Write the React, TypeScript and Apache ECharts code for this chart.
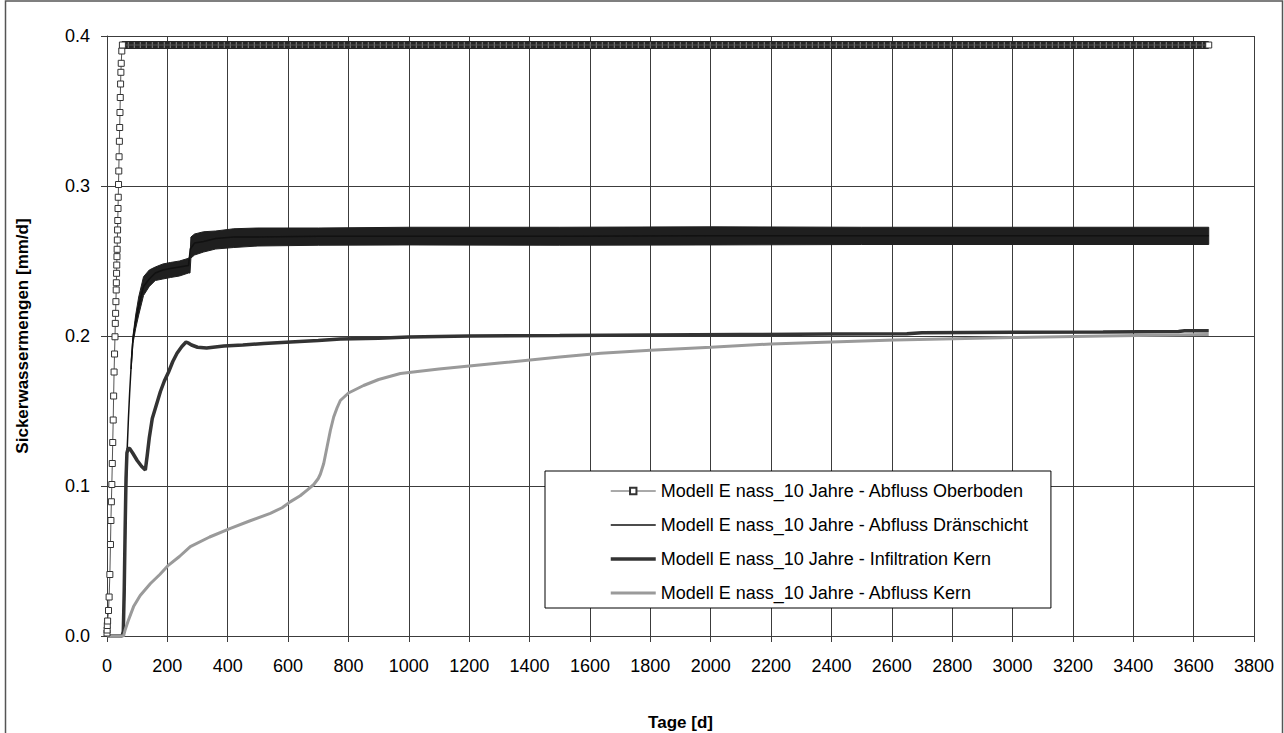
import React, { useEffect, useRef } from "react";
import * as echarts from "echarts";

// ---------- data ----------
const seriesNames = [
  "Modell E nass_10 Jahre - Abfluss Oberboden",
  "Modell E nass_10 Jahre - Abfluss Dränschicht",
  "Modell E nass_10 Jahre - Infiltration Kern",
  "Modell E nass_10 Jahre - Abfluss Kern",
];

// Abfluss Oberboden: steep rise (one marker per output step), then plateau
const oberbodenDays = [
  0, 0.5, 1, 2, 5, 7, 9.5, 11.5, 13, 14.5, 16, 17.5, 19, 20.5, 22, 23.5, 25, 26.5,
  27.5, 28.5, 29.5, 30.5, 31, 31.7, 32.3, 33, 33.6, 34.3, 35, 35.7, 36.5, 37.3,
  38.2, 39, 40, 41, 42, 43, 44, 45, 46, 47.2, 49, 51, 3650,
];
const oberbodenValues = [
  0.002, 0.004, 0.007, 0.01, 0.017, 0.026, 0.041, 0.061, 0.077, 0.0895, 0.101,
  0.115, 0.129, 0.144, 0.16, 0.176, 0.188, 0.1995, 0.2084, 0.2151, 0.2229, 0.2307,
  0.2355, 0.2418, 0.2473, 0.2529, 0.2578, 0.264, 0.2707, 0.277, 0.285, 0.2925,
  0.301, 0.31, 0.3195, 0.3298, 0.339, 0.349, 0.359, 0.368, 0.3758, 0.3818, 0.39,
  0.394, 0.394,
];
// dense daily markers along the plateau merge into a dark band
const oberbodenPlateauDays = [49, 3650];
const oberbodenPlateauValues = [0.394, 0.394];

// Abfluss Dränschicht: centre line and its oscillation range (dark band)
const draenDays = [
  0, 50, 55, 58, 61, 64, 67, 71, 75, 80, 86, 95, 105, 121, 140, 160, 185, 210, 240,
  270, 276, 290, 320, 360, 420, 500, 700, 1000, 1500, 2000, 2500, 3000, 3650,
];
const draenValues = [
  0, 0, 0.002, 0.03, 0.07, 0.1, 0.125, 0.145, 0.162, 0.18, 0.198, 0.21, 0.22, 0.233,
  0.238, 0.242, 0.244, 0.245, 0.246, 0.247, 0.258, 0.262, 0.263, 0.265, 0.266,
  0.266, 0.2665, 0.2665, 0.2665, 0.2668, 0.2668, 0.2668, 0.2668,
];
const draenBandDays = [
  80, 86, 95, 105, 121, 140, 160, 185, 210, 240, 270, 275, 278, 290, 320, 360, 420,
  500, 700, 1000, 1500, 2000, 2500, 3000, 3650,
];
const draenBandLow = [
  0.178, 0.195, 0.205, 0.214, 0.227, 0.233, 0.237, 0.238, 0.239, 0.24, 0.242, 0.242,
  0.252, 0.254, 0.256, 0.258, 0.259, 0.26, 0.2605, 0.2607, 0.2605, 0.2607, 0.261,
  0.261, 0.261,
];
const draenBandHigh = [
  0.184, 0.2, 0.214, 0.226, 0.2395, 0.244, 0.246, 0.248, 0.249, 0.25, 0.2518, 0.253,
  0.266, 0.268, 0.2695, 0.27, 0.2715, 0.272, 0.272, 0.2725, 0.2725, 0.2728, 0.2725,
  0.2725, 0.2725,
];

// Infiltration Kern
const infilDays = [
  0, 50, 54, 57, 60, 63, 66, 70, 75, 85, 100, 115, 127, 133, 140, 150, 165, 177,
  190, 204, 218, 232, 248, 262, 268, 280, 300, 330, 387, 450, 520, 608, 700, 773,
  900, 1000, 1200, 1500, 1800, 2100, 2400, 2650, 2700, 3000, 3300, 3550, 3570, 3650,
];
const infilValues = [
  0, 0, 0.003, 0.03, 0.07, 0.105, 0.122, 0.125, 0.125, 0.122, 0.117, 0.113, 0.1107,
  0.12, 0.132, 0.145, 0.155, 0.163, 0.17, 0.176, 0.183, 0.1885, 0.193, 0.196,
  0.1955, 0.194, 0.1925, 0.192, 0.1933, 0.194, 0.195, 0.196, 0.197, 0.198, 0.1985,
  0.1993, 0.2, 0.2003, 0.2007, 0.201, 0.2013, 0.2015, 0.2022, 0.2025, 0.2027,
  0.203, 0.2035, 0.2035,
];

// Abfluss Kern
const kernDays = [
  0, 55, 60, 70, 88, 110, 144, 175, 201, 240, 276, 340, 409, 470, 541, 580, 608,
  640, 663, 685, 700, 707, 718, 729, 740, 751, 762, 773, 800, 850, 900, 972, 1100,
  1300, 1500, 1636, 1800, 2000, 2200, 2400, 2610, 3000, 3300, 3650,
];
const kernValues = [
  0, 0, 0.004, 0.01, 0.0196, 0.027, 0.035, 0.041, 0.0467, 0.053, 0.0596, 0.066,
  0.0718, 0.0765, 0.0818, 0.0855, 0.0896, 0.0935, 0.0973, 0.101, 0.105, 0.108,
  0.115, 0.126, 0.137, 0.146, 0.152, 0.157, 0.162, 0.167, 0.171, 0.175, 0.178,
  0.182, 0.186, 0.1885, 0.1905, 0.1925, 0.1947, 0.196, 0.1973, 0.199, 0.2, 0.201,
];

const xMin = 0;
const xMax = 3800;
const xStep = 200;
const yMin = 0;
const yMax = 0.4;
const yStep = 0.1;

const pairs = (xs: number[], ys: number[]) => xs.map((x, i) => [x, ys[i]]);

const FONT = '"Liberation Sans", Arial, Helvetica, sans-serif';
const GRID = "#3c3c3c";

export default function App() {
  const ref = useRef<HTMLDivElement>(null);

  useEffect(() => {
    if (!ref.current) return;
    const chart = echarts.init(ref.current, null, { renderer: "svg" });

    const bandData = draenBandDays.map((d, i) => [d, draenBandLow[i], draenBandHigh[i]]);

    const option: any = {
      animation: false,
      backgroundColor: "#ffffff",
      textStyle: { fontFamily: FONT, color: "#000" },
      grid: {
        left: 107,
        right: 30,
        top: 36,
        bottom: 97,
        containLabel: false,
        outerBoundsMode: "none",
      },
      graphic: [
        {
          type: "rect",
          silent: true,
          z: 100,
          shape: { x: 5.5, y: 1, width: 1277, height: 760 },
          style: { fill: "none", stroke: "#555", lineWidth: 1.5 },
        },
      ],
      legend: {
        data: [
          { name: seriesNames[0], lineStyle: { width: 1, color: "#555" } },
          { name: seriesNames[1], itemStyle: { opacity: 0 }, lineStyle: { width: 1.5, color: "#111" } },
          { name: seriesNames[2], itemStyle: { opacity: 0 }, lineStyle: { width: 3.5, color: "#333" } },
          { name: seriesNames[3], itemStyle: { opacity: 0 }, lineStyle: { width: 3, color: "#9a9a9a" } },
        ],
        orient: "vertical",
        left: 545,
        top: 471,
        padding: [11, 22, 6, 64],
        itemWidth: 45,
        itemHeight: 8,
        itemGap: 16,
        backgroundColor: "#ffffff",
        borderColor: "#000",
        borderWidth: 1,
        borderRadius: 0,
        textStyle: { fontSize: 18, lineHeight: 18, color: "#000", fontFamily: FONT },
      },
      xAxis: {
        type: "value",
        min: xMin,
        max: xMax,
        interval: xStep,
        name: "Tage [d]",
        nameLocation: "middle",
        nameGap: 78,
        nameTextStyle: { fontWeight: "bold", fontSize: 17, color: "#000", fontFamily: FONT },
        axisLine: { show: true, onZero: false, lineStyle: { color: GRID, width: 1 } },
        axisTick: { show: true, inside: false, length: 6, lineStyle: { color: GRID } },
        axisLabel: {
          fontSize: 18,
          color: "#000",
          margin: 21,
          fontFamily: FONT,
          formatter: (v: number) => String(v),
        },
        splitLine: { show: true, lineStyle: { color: GRID, width: 1 } },
      },
      yAxis: {
        type: "value",
        min: yMin,
        max: yMax,
        interval: yStep,
        name: "Sickerwassermengen [mm/d]",
        nameLocation: "middle",
        nameGap: 76,
        nameTextStyle: { fontWeight: "bold", fontSize: 17, color: "#000", fontFamily: FONT },
        axisLine: { show: true, onZero: false, lineStyle: { color: GRID, width: 1 } },
        axisTick: { show: true, inside: false, length: 6, lineStyle: { color: GRID } },
        axisLabel: {
          fontSize: 18,
          color: "#000",
          margin: 17,
          fontFamily: FONT,
          formatter: (v: number) => v.toFixed(1),
        },
        splitLine: { show: true, lineStyle: { color: GRID, width: 1 } },
      },
      series: [
        {
          name: "Dränschicht Schwankungsbereich",
          type: "custom",
          silent: true,
          data: bandData,
          encode: { x: 0, y: [1, 2] },
          renderItem: (params: any, api: any) => {
            if (params.dataIndex !== 0) return null;
            const upper = draenBandDays.map((d, i) => api.coord([d, draenBandHigh[i]]));
            const lower = draenBandDays
              .map((d, i) => api.coord([d, draenBandLow[i]]))
              .reverse();
            return {
              type: "polygon",
              shape: { points: upper.concat(lower) },
              style: { fill: "#1f1f1f", stroke: "#1f1f1f", lineWidth: 1 },
            };
          },
          z: 2,
        },
        {
          name: seriesNames[1],
          type: "line",
          data: pairs(draenDays, draenValues),
          symbol: "none",
          lineStyle: { color: "#111", width: 1.5 },
          itemStyle: { color: "#111" },
          z: 2,
        },
        {
          name: seriesNames[2],
          type: "line",
          data: pairs(infilDays, infilValues),
          symbol: "none",
          lineStyle: { color: "#333", width: 3.5 },
          itemStyle: { color: "#333" },
          z: 3,
        },
        {
          name: seriesNames[3],
          type: "line",
          data: pairs(kernDays, kernValues),
          symbol: "none",
          lineStyle: { color: "#9a9a9a", width: 3 },
          itemStyle: { color: "#9a9a9a" },
          z: 4,
        },
        {
          name: "Oberboden Plateau",
          type: "line",
          data: pairs(oberbodenPlateauDays, oberbodenPlateauValues),
          symbol: "none",
          silent: true,
          lineStyle: { color: "#262626", width: 8 },
          z: 5,
        },
        {
          name: "Oberboden Plateau Marker",
          type: "line",
          data: pairs(oberbodenPlateauDays, oberbodenPlateauValues),
          symbol: "none",
          silent: true,
          lineStyle: { color: "#8a8a8a", width: 6, type: [1, 5] },
          z: 6,
        },
        {
          name: seriesNames[0],
          type: "line",
          data: pairs(oberbodenDays, oberbodenValues),
          symbol: "rect",
          symbolSize: 6,
          showAllSymbol: true,
          lineStyle: { color: "#555", width: 1 },
          itemStyle: { color: "#ffffff", borderColor: "#333", borderWidth: 1 },
          z: 7,
        },
      ],
    };

    chart.setOption(option);
    return () => chart.dispose();
  }, []);

  return (
    <div
      ref={ref}
      style={{ position: "fixed", left: 0, top: 0, width: 1284, height: 733, background: "#fff" }}
    />
  );
}
